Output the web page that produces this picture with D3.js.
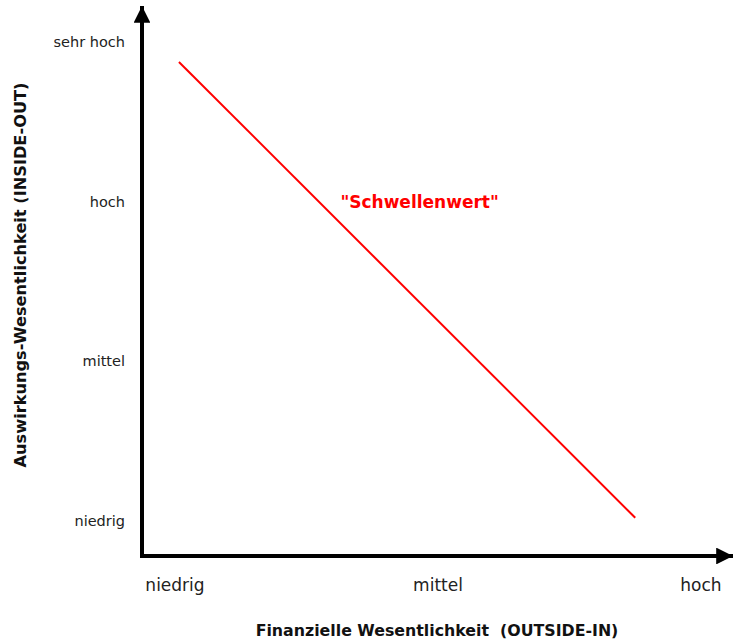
<!DOCTYPE html>
<html><head><meta charset="utf-8">
<script src="https://cdn.jsdelivr.net/npm/d3@7"></script>
<style>body{margin:0;background:#fff}svg{display:block}</style>
</head><body>
<svg id="c" width="735" height="644"></svg>
<script>
const xCategories = ["niedrig", "mittel", "hoch"];
const yCategories = ["niedrig", "mittel", "hoch", "sehr hoch"];
const thresholdX = [0.015, 1.75];
const thresholdY = [2.875, 0.02];
const thresholdLabel = "\"Schwellenwert\"";
const labelPos = [0.93, 2.0];
const xTitle = "Finanzielle Wesentlichkeit  (OUTSIDE-IN)";
const yTitle = "Auswirkungs-Wesentlichkeit (INSIDE-OUT)";

const font = "'DejaVu Sans', sans-serif";
const svg = d3.select("#c");
const x = d3.scaleLinear().domain([0, xCategories.length - 1]).range([175, 701]);
const y = d3.scaleLinear().domain([0, yCategories.length - 1]).range([521, 42]);

const defs = svg.append("defs");
defs.append("marker").attr("id","arr").attr("viewBox","0 0 10 10")
  .attr("refX",10).attr("refY",5).attr("markerWidth",4.2).attr("markerHeight",4.2)
  .attr("markerUnits","strokeWidth").attr("orient","auto")
  .append("path").attr("d","M0,0 L10,5 L0,10 Z").attr("fill","#000");

const ox = 142, oy = 556;
svg.append("line").attr("x1",ox).attr("y1",oy+2).attr("x2",ox).attr("y2",6)
  .attr("stroke","#000").attr("stroke-width",4).attr("marker-end","url(#arr)");
svg.append("line").attr("x1",ox-2).attr("y1",oy).attr("x2",733).attr("y2",oy)
  .attr("stroke","#000").attr("stroke-width",4).attr("marker-end","url(#arr)");

// y tick labels
svg.append("g").selectAll("text").data(yCategories).join("text")
  .attr("x",125).attr("y",(d,i)=>y(i)).attr("dy","0.35em")
  .attr("text-anchor","end").attr("font-family",font).attr("font-size",14.5)
  .attr("fill","#222").text(d=>d);
// x tick labels
svg.append("g").selectAll("text").data(xCategories).join("text")
  .attr("x",(d,i)=>x(i)).attr("y",585).attr("dy","0.35em")
  .attr("text-anchor","middle").attr("font-family",font).attr("font-size",17)
  .attr("fill","#222").text(d=>d);

// threshold line
const pts = thresholdX.map((v,i)=>[v, thresholdY[i]]);
svg.append("path").datum(pts)
  .attr("d", d3.line().x(d=>x(d[0])).y(d=>y(d[1])))
  .attr("stroke","#ff0000").attr("stroke-width",2).attr("fill","none");
svg.append("text").attr("x",x(labelPos[0])).attr("y",y(labelPos[1])).attr("dy","0.35em")
  .attr("text-anchor","middle").attr("font-family",font).attr("font-weight","bold")
  .attr("font-size",17).attr("fill","#ff0000").text(thresholdLabel);

// titles
svg.append("text").attr("x",437).attr("y",630).attr("dy","0.35em")
  .attr("text-anchor","middle").attr("font-family",font).attr("font-weight","bold")
  .attr("font-size",15.8).attr("fill","#111").style("white-space","pre").text(xTitle);
svg.append("text").attr("transform","translate(20,275) rotate(-90)").attr("dy","0.35em")
  .attr("text-anchor","middle").attr("font-family",font).attr("font-weight","bold")
  .attr("font-size",16.2).attr("fill","#111").text(yTitle);
</script>
</body></html>
